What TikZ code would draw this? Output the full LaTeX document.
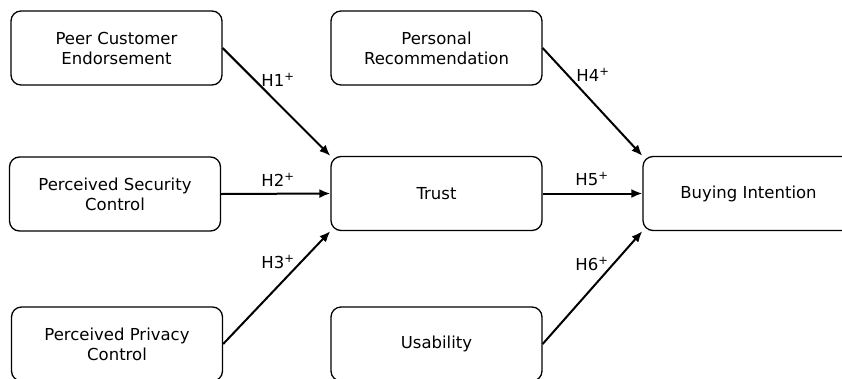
\documentclass[tikz,border=0pt]{standalone}
\usepackage{fontspec}
\setmainfont{DejaVu Sans}
\usetikzlibrary{arrows.meta}
\begin{document}
\begin{tikzpicture}[x=1pt,y=-1pt,
  box/.style={draw, line width=1.3pt, rounded corners=10pt, minimum width=211pt, minimum height=74pt,
    inner sep=0pt, align=center, font=\fontsize{16.5}{20}\selectfont},
  arr/.style={line width=2pt, -{Latex[length=11pt,width=9pt]}},
  hyp/.style={inner sep=0pt, font=\fontsize{16.5}{20}\selectfont}]
\useasboundingbox (0,0) rectangle (842,378);
\clip (0,0) rectangle (842,378);
\node[box] (pce) at (116.5,48) {Peer Customer\\Endorsement};
\node[box] (pr) at (436.5,48) {Personal\\Recommendation};
\node[box] (psc) at (115,194) {Perceived Security\\Control};
\node[box] (trust) at (436.5,193.5) {Trust};
\node[box] (bi) at (748.5,193.5) {Buying Intention};
\node[box] (ppc) at (117,344) {Perceived Privacy\\Control};
\node[box] (us) at (436.5,344) {Usability};
\draw[arr] (pce.east) -- (trust.north west);
\draw[arr] (psc.east) -- (trust.west);
\draw[arr] (ppc.east) -- (trust.south west);
\draw[arr] (pr.east) -- (bi.north west);
\draw[arr] (trust.east) -- (bi.west);
\draw[arr] (us.east) -- (bi.south west);
\node[hyp] (h1) at (278,80) {H1\textsuperscript{+}};
\node[hyp] (h2) at (278,180) {H2\textsuperscript{+}};
\node[hyp] (h3) at (278,262) {H3\textsuperscript{+}};
\node[hyp] (h4) at (593,75) {H4\textsuperscript{+}};
\node[hyp] (h5) at (592,179) {H5\textsuperscript{+}};
\node[hyp] (h6) at (592,264) {H6\textsuperscript{+}};
\end{tikzpicture}
\end{document}
